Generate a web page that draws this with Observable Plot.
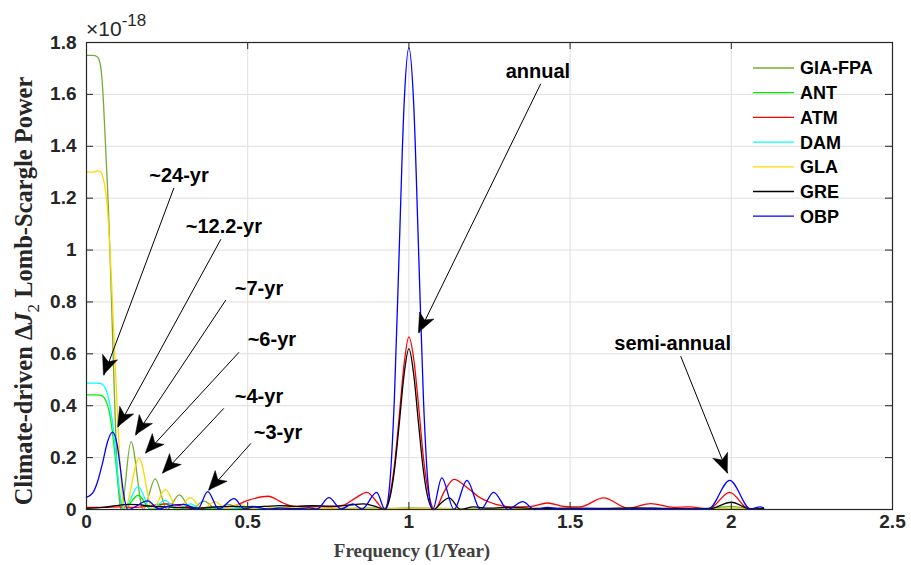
<!DOCTYPE html>
<html><head><meta charset="utf-8">
<script src="https://cdn.jsdelivr.net/npm/d3@7"></script>
<script src="https://cdn.jsdelivr.net/npm/@observablehq/plot@0.6"></script>
<style>
body{margin:0;background:#fff;}
#chart{position:relative;width:911px;height:565px;}
</style></head><body><div id="chart"></div>
<script>
// ---- data (frequency in 1/yr, power in 1e-18) ----
const seriesNames = ["GIA-FPA","ANT","ATM","DAM","GLA","GRE","OBP"];
const seriesColors = ["#77ac30","#00ee00","#ff0000","#00ffff","#ffd700","#000000","#0000ff"];

const giaFpa = [[0,1.75],[0.02,1.75],[0.033,1.745],[0.042,1.72],[0.048,1.66],[0.053,1.56],[0.058,1.43],[0.063,1.3],[0.068,1.16],[0.073,0.98],[0.078,0.79],[0.083,0.58],[0.088,0.39],[0.093,0.22],[0.098,0.1],[0.103,0.025],[0.108,0],
 [0.138,0.262],[0.176,0],[0.213,0.118],[0.25,0],[0.288,0.056],[0.325,0.002],[0.365,0.032],[0.402,0.002],[0.44,0.02],[0.478,0.002],[0.515,0.013],[0.555,0.002],[0.6,0.008],[0.65,0.003],[0.7,0.006],[0.8,0.004],[0.9,0.006],[0.95,0.004],[1.0,0.006],[1.1,0.004],[1.3,0.003],[1.6,0.003],[1.9,0.003],[1.96,0.008],[2.0,0.012],[2.05,0.004],[2.1,0.003]];
const ant = [[0,0.442],[0.03,0.442],[0.045,0.44],[0.055,0.43],[0.063,0.41],[0.07,0.38],[0.077,0.33],[0.084,0.26],[0.091,0.18],[0.098,0.1],[0.105,0.04],[0.111,0.008],[0.116,0],
 [0.16,0.055],[0.2,0],[0.243,0.022],[0.283,0],[0.322,0.012],[0.36,0],[0.4,0.007],[0.45,0.002],[0.5,0.005],[0.6,0.002],[0.8,0.003],[1.0,0.003],[1.5,0.002],[2.0,0.004],[2.1,0.002]];
const atm = [[0,0.008],[0.05,0.008],[0.1,0.01],[0.15,0.008],[0.2,0.015],[0.25,0.022],[0.3,0.012],[0.35,0.006],[0.4,0.01],[0.45,0.012],[0.5,0.035],[0.563,0.051],[0.61,0.025],[0.64,0.012],[0.68,0.01],[0.72,0.013],[0.76,0.01],[0.8,0.018],[0.835,0.045],[0.87,0.066],[0.9,0.03],[0.922,0],
 [0.94,0.05],[0.955,0.17],[0.97,0.36],[0.985,0.56],[1.0,0.665],[1.015,0.58],[1.03,0.4],[1.045,0.2],[1.06,0.07],[1.08,0],
 [1.11,0.07],[1.14,0.116],[1.18,0.085],[1.22,0.046],[1.27,0.02],[1.32,0.01],[1.38,0.012],[1.43,0.025],[1.48,0.012],[1.53,0.01],[1.604,0.045],[1.68,0.005],[1.75,0.023],[1.82,0.008],[1.87,0.01],[1.93,0.003],[1.995,0.066],[2.055,0.002],[2.1,0.004]];
const dam = [[0,0.487],[0.03,0.487],[0.045,0.485],[0.055,0.475],[0.063,0.455],[0.07,0.42],[0.077,0.37],[0.084,0.3],[0.091,0.21],[0.098,0.12],[0.105,0.05],[0.111,0.012],[0.116,0],
 [0.16,0.088],[0.2,0],[0.243,0.035],[0.283,0],[0.322,0.022],[0.36,0],[0.4,0.012],[0.44,0.002],[0.48,0.008],[0.52,0.002],[0.6,0.004],[0.8,0.002],[1.0,0.003],[1.5,0.002],[2.0,0.003],[2.1,0.002]];
const gla = [[0,1.3],[0.02,1.3],[0.035,1.305],[0.045,1.3],[0.053,1.27],[0.06,1.22],[0.066,1.14],[0.072,1.02],[0.078,0.87],[0.084,0.7],[0.09,0.53],[0.096,0.37],[0.102,0.22],[0.108,0.1],[0.113,0.03],[0.118,0],
 [0.163,0.198],[0.205,0],[0.245,0.077],[0.283,0.002],[0.322,0.046],[0.36,0.002],[0.398,0.03],[0.435,0.002],[0.475,0.02],[0.512,0.002],[0.55,0.012],[0.59,0.002],[0.63,0.008],[0.7,0.003],[0.8,0.005],[0.9,0.003],[1.0,0.004],[1.2,0.002],[1.5,0.002],[1.9,0.002],[2.0,0.005],[2.1,0.002]];
const gre = [[0,0.004],[0.05,0.008],[0.1,0.016],[0.13,0.02],[0.16,0.019],[0.2,0.012],[0.25,0.01],[0.3,0.007],[0.35,0.005],[0.4,0.01],[0.45,0.012],[0.5,0.01],[0.55,0.012],[0.6,0.015],[0.65,0.012],[0.7,0.015],[0.75,0.013],[0.8,0.015],[0.86,0.022],[0.9,0.01],[0.925,0],
 [0.94,0.04],[0.955,0.15],[0.97,0.33],[0.985,0.52],[1.0,0.62],[1.015,0.52],[1.03,0.33],[1.045,0.15],[1.06,0.04],[1.077,0],
 [1.1,0.025],[1.125,0.045],[1.16,0],[1.2,0.01],[1.25,0.005],[1.3,0.008],[1.4,0.004],[1.5,0.005],[1.6,0.004],[1.7,0.006],[1.8,0.004],[1.93,0.002],[2.0,0.028],[2.06,0.002],[2.1,0.003]];
const obp = [[0,0.047],[0.02,0.065],[0.035,0.11],[0.05,0.18],[0.065,0.26],[0.081,0.298],[0.095,0.25],[0.105,0.16],[0.115,0.06],[0.128,0],
 [0.19,0.033],[0.225,0.002],[0.25,0.012],[0.3,0.02],[0.345,0.002],[0.376,0.069],[0.41,0.002],[0.458,0.042],[0.49,0.002],[0.52,0.01],[0.56,0.002],[0.6,0.005],[0.65,0.003],[0.69,0.006],[0.715,0.002],[0.752,0.046],[0.79,0.002],[0.826,0.022],[0.855,0.002],[0.9,0.066],[0.926,0],
 [0.94,0.09],[0.955,0.43],[0.97,1.0],[0.985,1.56],[1.0,1.78],[1.015,1.56],[1.03,1.0],[1.045,0.43],[1.06,0.09],[1.074,0],
 [1.102,0.122],[1.14,0],[1.18,0.112],[1.222,0],[1.263,0.066],[1.307,0],[1.353,0.03],[1.39,0],[1.43,0.008],[1.47,0.002],[1.55,0.004],[1.65,0.002],[1.75,0.004],[1.85,0.002],[1.93,0.003],[1.995,0.112],[2.06,0.002],[2.09,0.01],[2.1,0.006]];

const xTicks = [0, 0.5, 1, 1.5, 2, 2.5];
const xTickLabels = ["0","0.5","1","1.5","2","2.5"];
const yTicks = [0, 0.2, 0.4, 0.6, 0.8, 1, 1.2, 1.4, 1.6, 1.8];
const yTickLabels = ["0","0.2","0.4","0.6","0.8","1","1.2","1.4","1.6","1.8"];

// annotations (data coordinates)
const annoLabels = ["annual","semi-annual","~24-yr","~12.2-yr","~7-yr","~6-yr","~4-yr","~3-yr"];
const annoTextF  = [1.40, 1.818, 0.287, 0.426, 0.535, 0.575, 0.535, 0.594];
const annoTextP  = [1.687, 0.641, 1.286, 1.089, 0.853, 0.653, 0.436, 0.297];
const arrowFromF = [1.409, 1.843, 0.271, 0.417, 0.432, 0.473, 0.426, 0.510];
const arrowFromP = [1.641, 0.591, 1.239, 1.042, 0.807, 0.606, 0.390, 0.255];
const arrowToF   = [1.031, 1.989, 0.054, 0.098, 0.153, 0.184, 0.237, 0.380];
const arrowToP   = [0.680, 0.139, 0.517, 0.317, 0.286, 0.216, 0.139, 0.073];

// ---- build tables ----
const seriesData = [giaFpa, ant, atm, dam, gla, gre, obp];
const rows = seriesData.flatMap((arr, i) => arr.map(([f, p]) => ({series: seriesNames[i], f, p})));
const annos = annoLabels.map((t, i) => ({t, tx: annoTextF[i], ty: annoTextP[i], x1: arrowFromF[i], y1: arrowFromP[i], x2: arrowToF[i], y2: arrowToP[i]}));

const W = 911, H = 565, mL = 86, mR = 19, mT = 42, mB = 56;
const pw = W - mL - mR, ph = H - mT - mB;
const sans = "'Liberation Sans', Arial, Helvetica, sans-serif";
const serif = "'Liberation Serif', 'Times New Roman', Times, serif";
const axisColor = "#262626";

const plot = Plot.plot({
  width: W, height: H,
  marginLeft: mL, marginRight: mR, marginTop: mT, marginBottom: mB,
  style: {fontFamily: sans, fontSize: "19px", fontWeight: "bold", color: axisColor, background: "white", overflow: "visible"},
  x: {domain: [0, 2.5]},
  y: {domain: [0, 1.8]},
  color: {domain: seriesNames, range: seriesColors},
  marks: [
    Plot.gridX(xTicks, {stroke: "#dfdfdf", strokeOpacity: 1}),
    Plot.gridY(yTicks, {stroke: "#dfdfdf", strokeOpacity: 1}),
    Plot.line(rows, {x: "f", y: "p", z: "series", stroke: "series", curve: "monotone-x", strokeWidth: 1.3}),
    Plot.frame({stroke: axisColor, strokeWidth: 1.2}),
    Plot.tickX(xTicks, {x: d => d, insetTop: ph - 7, stroke: axisColor}),
    Plot.tickX(xTicks, {x: d => d, insetBottom: ph - 7, stroke: axisColor}),
    Plot.tickY(yTicks, {y: d => d, insetRight: pw - 7, stroke: axisColor}),
    Plot.tickY(yTicks, {y: d => d, insetLeft: pw - 7, stroke: axisColor}),
    Plot.axisX(xTicks, {tickSize: 0, tickPadding: 5, tickFormat: d => xTickLabels[xTicks.indexOf(d)], label: null, fill: axisColor}),
    Plot.axisY(yTicks, {tickSize: 0, tickPadding: 10, tickFormat: d => yTickLabels[yTicks.indexOf(d)], label: null, fill: axisColor}),
    Plot.link(annos, {x1: "x1", y1: "y1", x2: "x2", y2: "y2", stroke: "black", strokeWidth: 1}),
    Plot.text(annos, {x: "tx", y: "ty", text: "t", fontSize: 20, fontWeight: "bold", fill: "black", textAnchor: "middle", lineAnchor: "middle"})
  ]
});
document.getElementById("chart").appendChild(plot);

const svg = d3.select(plot);
const sx = plot.scale("x"), sy = plot.scale("y");
const fx = d3.scaleLinear(sx.domain, sx.range), fy = d3.scaleLinear(sy.domain, sy.range);

// filled arrowheads (MATLAB vback2 style)
const heads = svg.append("g");
annos.forEach(a => {
  const X1 = fx(a.x1), Y1 = fy(a.y1), X2 = fx(a.x2), Y2 = fy(a.y2);
  const len = Math.hypot(X2 - X1, Y2 - Y1);
  const ux = (X2 - X1) / len, uy = (Y2 - Y1) / len, nx = -uy, ny = ux;
  const L = 19, Wd = 8, d = 5;
  const pts = [[X2, Y2], [X2 - L*ux + Wd*nx, Y2 - L*uy + Wd*ny], [X2 - (L-d)*ux, Y2 - (L-d)*uy], [X2 - L*ux - Wd*nx, Y2 - L*uy - Wd*ny]];
  heads.append("path").attr("d", "M" + pts.map(p => p.join(",")).join("L") + "Z").attr("fill", "black").attr("stroke", "black").attr("stroke-width", 0.5);
});

// exponent label
const ex = svg.append("text").attr("x", 86).attr("y", 36).attr("text-anchor", "start").attr("fill", axisColor).style("font-family", sans).style("font-weight", "normal").style("font-size", "21px");
ex.append("tspan").text("×10");
ex.append("tspan").attr("dy", -10).style("font-size", "17px").text("-18");

// y label
const yl = svg.append("text").attr("transform", "translate(32,291) rotate(-90)").attr("text-anchor", "middle").attr("fill", axisColor)
  .style("font-family", serif).style("font-weight", "bold").style("font-size", "24.5px");
yl.append("tspan").text("Climate-driven Δ");
yl.append("tspan").style("font-style", "italic").text("J");
yl.append("tspan").attr("dy", 7).style("font-weight", "normal").style("font-size", "17px").text("2");
yl.append("tspan").attr("dy", -7).text(" Lomb-Scargle Power");

// x label
svg.append("text").attr("x", 412).attr("y", 557).attr("text-anchor", "middle").attr("fill", "#404040")
  .style("font-family", serif).style("font-weight", "bold").style("font-size", "19px").text("Frequency (1/Year)");

// legend
const lg = svg.append("g");
seriesNames.forEach((n, i) => {
  const y = 68 + i * 24.7;
  lg.append("line").attr("x1", 753).attr("x2", 794).attr("y1", y).attr("y2", y).attr("stroke", seriesColors[i]).attr("stroke-width", 1.3);
  lg.append("text").attr("x", 800).attr("y", y).attr("dy", "0.36em").attr("text-anchor", "start").attr("fill", "black")
    .style("font-family", sans).style("font-weight", "bold").style("font-size", "18px").text(n);
});
</script></body></html>
